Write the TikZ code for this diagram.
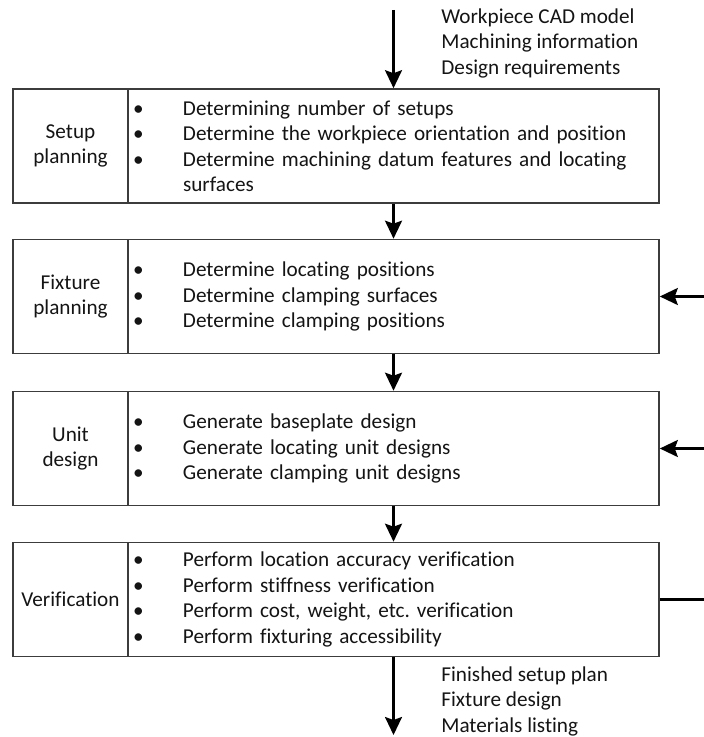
\documentclass[tikz,border=0pt]{standalone}
\usepackage{fontspec}
\setmainfont{Carlito}[Ligatures={NoCommon}]
\usepackage{xcolor}
\usepackage{tikz}
\usetikzlibrary{arrows.meta}
\definecolor{boxc}{HTML}{3C3C3C}
\definecolor{txtc}{HTML}{141414}
\frenchspacing
\tikzset{
  ar/.style={-{Stealth[length=9pt,width=8.5pt,inset=1.5pt]},line width=1.2pt,black},
  fb/.style={line width=1.2pt,black},
  lab/.style={draw=boxc,line width=0.8pt,minimum width=57.5pt,minimum height=57pt,inner sep=1pt,align=center,text=txtc,font=\fontsize{10.6}{12.75}\selectfont},
  body/.style={draw=boxc,line width=0.8pt,minimum width=265.5pt,minimum height=57pt,inner xsep=2pt,inner ysep=0pt,text width=261.5pt,align=left,text=txtc,font=\fontsize{10.6}{12.75}\selectfont},
  note/.style={anchor=north west,inner sep=0pt,align=left,text=txtc,font=\fontsize{10.6}{12.75}\selectfont}
}
\newcommand{\bul}{\makebox[25.5pt][l]{\hspace{0.6pt}\textbullet}}
\newcommand{\nobul}{\hspace*{25.5pt}}

\begin{document}
\begin{tikzpicture}[x=0.5pt,y=-0.5pt]
\useasboundingbox (0,0) rectangle (704,737);
\node[lab] (l1) at (70.5,146) {Setup\\planning};
\node[body] (b1) at (393.5,146) {\bul Determining number of setups\\\bul Determine the workpiece orientation and position\\\bul Determine machining datum features and locating\\\nobul surfaces};
\node[lab] (l2) at (70.5,296.5) {Fixture\\planning};
\node[body] (b2) at (393.5,296.5) {\bul Determine locating positions\\\bul Determine clamping surfaces\\\bul Determine clamping positions};
\node[lab] (l3) at (70.5,448.5) {Unit\\design};
\node[body] (b3) at (393.5,448.5) {\bul Generate baseplate design\\\bul Generate locating unit designs\\\bul Generate clamping unit designs};
\node[lab] (l4) at (70.5,599.5) {Verification};
\node[body] (b4) at (393.5,599.5) {\bul Perform location accuracy verification\\\bul Perform stiffness verification\\\bul Perform cost, weight, etc. verification\\\bul Perform fixturing accessibility};
% inputs and outputs
\node[note] (inp) at (441,8) {Workpiece CAD model\\Machining information\\Design requirements};
\node[note] (outp) at (441,666) {Finished setup plan\\Fixture design\\Materials listing};
\coordinate (src) at (393.5,10);
\coordinate (snk) at (393.5,735);
\coordinate (fb2) at (706,296.5);
\coordinate (fb3) at (706,448.5);
\coordinate (fb4) at (706,599.5);
\draw[ar] (src) -- (b1);
\draw[ar] (b1) -- (b2);
\draw[ar] (b2) -- (b3);
\draw[ar] (b3) -- (b4);
\draw[ar] (b4) -- (snk);
% feedback from the right
\draw[ar] (fb2) -- (b2);
\draw[ar] (fb3) -- (b3);
\draw[fb] (b4) -- (fb4);
\end{tikzpicture}
\end{document}
